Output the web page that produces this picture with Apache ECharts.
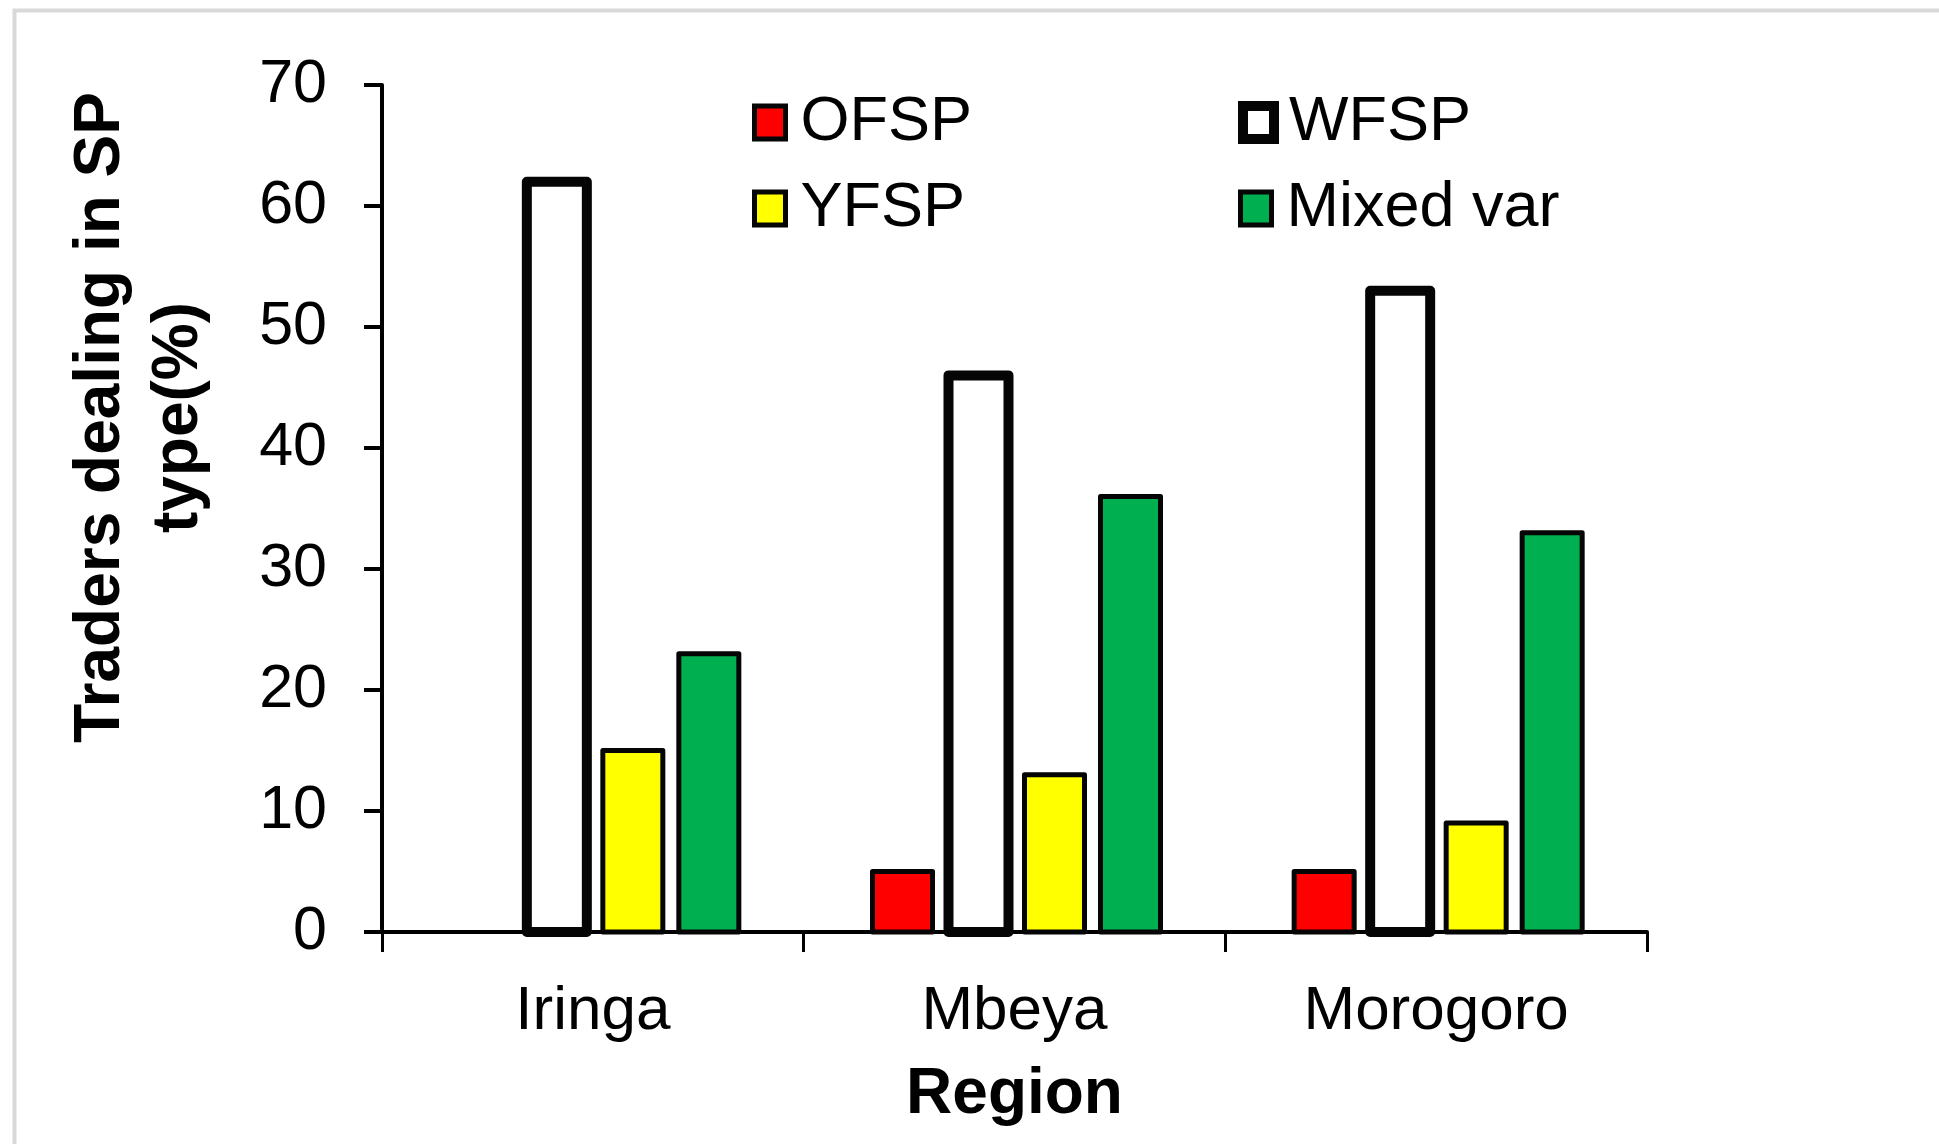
<!DOCTYPE html>
<html>
<head>
<meta charset="utf-8">
<title>Traders dealing in SP type</title>
<script src="https://cdn.jsdelivr.net/npm/echarts@6/dist/echarts.min.js"></script>
<style>
  html, body { margin: 0; padding: 0; background: #ffffff; }
  #chart { width: 1939px; height: 1144px; }
</style>
</head>
<body>
<div id="chart"></div>
<script>
// Regions on the category axis
const regions = ['Iringa', 'Mbeya', 'Morogoro'];

// Share of traders (%) dealing in each sweet potato type, per region
const ofsp = [0, 5, 5];
const wfsp = [62, 46, 53];
const yfsp = [15, 13, 9];
const mixedVar = [23, 36, 33];

// Value axis ticks
const yTicks = [0, 10, 20, 30, 40, 50, 60, 70];

const FONT = '"Liberation Sans", Arial, sans-serif';
const INK = '#050505';

const seriesDefs = [
  { name: 'OFSP', data: ofsp, color: '#ff0000', border: 5 },
  { name: 'WFSP', data: wfsp, color: '#ffffff', border: 10 },
  { name: 'YFSP', data: yfsp, color: '#ffff00', border: 5 },
  { name: 'Mixed var', data: mixedVar, color: '#00b050', border: 5 }
];

// Bar geometry inside each category band (outline centred on the bar edge)
const BAR_W = 60;
const BAR_PITCH = 76;
const GROUP_SHIFT = 2;

// Legend laid out as a 2 x 2 grid
const legendSlots = [
  { left: 752, top: 91 },
  { left: 1238, top: 91 },
  { left: 752, top: 177 },
  { left: 1238, top: 177 }
];

function barRenderer(idx, def) {
  const shift = (idx - (seriesDefs.length - 1) / 2) * BAR_PITCH + GROUP_SHIFT;
  return function (params, api) {
    const cat = api.value(0);
    const val = api.value(1);
    if (!(val > 0)) return null;
    const top = api.coord([cat, val]);
    const base = api.coord([cat, 0]);
    const cx = top[0] + shift;
    return {
      type: 'rect',
      shape: { x: cx - BAR_W / 2, y: top[1], width: BAR_W, height: base[1] - top[1] },
      style: { fill: def.color, stroke: INK, lineWidth: def.border, lineJoin: 'round' }
    };
  };
}

const chart = echarts.init(document.getElementById('chart'), null, { renderer: 'canvas' });

chart.setOption({
  backgroundColor: '#ffffff',
  animation: false,
  graphic: [{
    type: 'rect',
    left: 12, top: 8,
    shape: { width: 2000, height: 1200 },
    style: { fill: 'none', stroke: '#d9d9d9', lineWidth: 4 },
    silent: true
  }],
  grid: { left: 382, right: 292, top: 85, bottom: 212, containLabel: false },
  legend: seriesDefs.map((s, i) => ({
    data: [{ name: s.name, itemStyle: { color: s.color, borderWidth: s.border, borderColor: INK } }],
    left: legendSlots[i].left,
    top: legendSlots[i].top,
    padding: 0,
    icon: 'rect',
    itemWidth: 31,
    itemHeight: 33,
    selectedMode: false,
    textStyle: { fontFamily: FONT, fontSize: 63, color: '#000', padding: [0, 0, 0, 10] }
  })),
  xAxis: {
    type: 'category',
    data: regions,
    name: 'Region',
    nameLocation: 'middle',
    nameGap: 131,
    nameTextStyle: { fontFamily: FONT, fontSize: 64, fontWeight: 'bold', color: '#000' },
    axisLine: { lineStyle: { color: '#000', width: 4 } },
    axisTick: { show: true, length: 20, lineStyle: { color: '#000', width: 3 } },
    axisLabel: { fontFamily: FONT, fontSize: 62, color: '#000', margin: 49 }
  },
  yAxis: {
    type: 'value',
    min: yTicks[0],
    max: yTicks[yTicks.length - 1],
    interval: yTicks[1] - yTicks[0],
    name: 'Traders dealing in SP\ntype(%)',
    nameLocation: 'middle',
    nameRotate: 90,
    nameGap: 164,
    nameTextStyle: {
      fontFamily: FONT, fontSize: 64, fontWeight: 'bold', color: '#000',
      lineHeight: 78, align: 'center', padding: [0, 0, 0, 182]
    },
    axisLine: { show: true, lineStyle: { color: '#000', width: 4 } },
    axisTick: { show: true, length: 18, lineStyle: { color: '#000', width: 4 } },
    axisLabel: { fontFamily: FONT, fontSize: 61, color: '#000', margin: 55 },
    splitLine: { show: false }
  },
  series: seriesDefs.map((s, i) => ({
    name: s.name,
    type: 'custom',
    renderItem: barRenderer(i, s),
    encode: { x: 0, y: 1 },
    itemStyle: { color: s.color, borderColor: INK, borderWidth: s.border },
    data: s.data.map((v, k) => [k, v])
  }))
});
</script>
</body>
</html>
